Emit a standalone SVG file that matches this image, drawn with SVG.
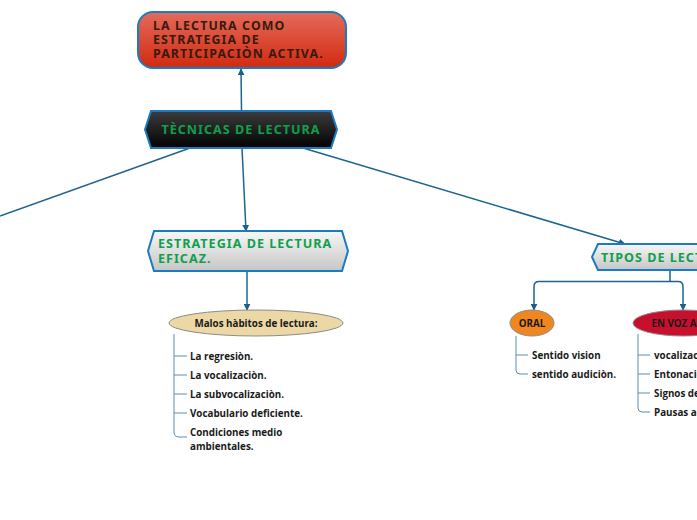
<svg xmlns="http://www.w3.org/2000/svg" width="697" height="520" viewBox="0 0 697 520">
<defs>
<linearGradient id="gRed" x1="0" y1="0" x2="0" y2="1"><stop offset="0" stop-color="#e36b5b"/><stop offset="1" stop-color="#d22a10"/></linearGradient>
<linearGradient id="gBlack" x1="0" y1="0" x2="0" y2="1"><stop offset="0" stop-color="#3c3c3c"/><stop offset="1" stop-color="#020202"/></linearGradient>
<linearGradient id="gGrey" x1="0" y1="0" x2="0" y2="1"><stop offset="0" stop-color="#f7f7f7"/><stop offset="1" stop-color="#c6c6c6"/></linearGradient>
<marker id="arr" viewBox="0 0 10 10" refX="9" refY="5" markerWidth="7" markerHeight="7" markerUnits="userSpaceOnUse" orient="auto"><path d="M0,0 L10,5 L0,10 Z" fill="#1d5f86"/></marker>
<style>
.con{fill:none;stroke:#1d6490;stroke-width:1.5}
.lst{fill:none;stroke:#5a8fb0;stroke-width:1}
.hx{stroke:#1a7cc0;stroke-width:2}
.h{font-family:"Noto Sans","Open Sans",sans-serif;font-weight:700;font-size:12.6px;letter-spacing:1px;fill:#10a04c}
.t{font-family:"Open Sans","Noto Sans",sans-serif;font-weight:700;font-size:9.8px;fill:#1a1a1a}
.e{stroke:#8c8c8c;stroke-width:1}
</style>
</defs>
<g id="connectors">
<line class="con" x1="241.5" y1="111" x2="241" y2="69" marker-end="url(#arr)"/>
<line class="con" x1="190" y1="148" x2="0" y2="216"/>
<line class="con" x1="242" y1="148" x2="246" y2="231" marker-end="url(#arr)"/>
<line class="con" x1="303" y1="148" x2="625" y2="244" marker-end="url(#arr)"/>
<line class="con" x1="247" y1="271" x2="247" y2="310" marker-end="url(#arr)"/>
<path class="con" d="M670,270 V281.5 M670,281.5 H539 Q534,281.5 534,286.5 V310" marker-end="url(#arr)"/>
<path class="con" d="M670,281.5 H678 Q683,281.5 683,286.5 V310" marker-end="url(#arr)"/>
<path class="lst" d="M174,334 V432 Q174,437 179,437 H187 M174,356 H187 M174,375 H187 M174,394 H187 M174,413 H187"/>
<path class="lst" d="M516,336 V370 Q516,374 520,374 H528 M516,355 H528"/>
<path class="lst" d="M638,334 V408 Q638,412 642,412 H650 M638,355 H650 M638,374 H650 M638,393 H650"/>
</g>
<g id="n-top">
<rect x="138" y="12" width="208" height="56" rx="15" fill="url(#gRed)" stroke="#1a7cc0" stroke-width="2"/>
<text font-family="'Noto Sans','Open Sans',sans-serif" font-weight="700" font-size="12.4" letter-spacing="1.1" fill="#3a1a0e"><tspan x="153" y="30">LA LECTURA COMO</tspan><tspan x="153" y="44">ESTRATEGIA DE</tspan><tspan x="153" y="58">PARTICIPACIÒN ACTIVA.</tspan></text>
</g>
<g id="n-tecnicas">
<path class="hx" d="M151,111 H331 L337,129.5 L331,148 H151 L145,129.5 Z" fill="url(#gBlack)"/>
<text class="h" x="241" y="134" text-anchor="middle">TÈCNICAS DE LECTURA</text>
</g>
<g id="n-estrategia">
<path class="hx" d="M154,231 H342 L348,251 L342,271 H154 L148,251 Z" fill="url(#gGrey)"/>
<text class="h"><tspan x="158" y="248">ESTRATEGIA DE LECTURA</tspan><tspan x="158" y="263">EFICAZ.</tspan></text>
</g>
<g id="n-tipos">
<path class="hx" d="M598,244 H705 V270 H598 L592,257 Z" fill="url(#gGrey)"/>
<text class="h" x="601" y="262">TIPOS DE LECTURA</text>
</g>
<g id="n-malos">
<ellipse class="e" cx="256" cy="323" rx="87" ry="13" fill="#ecd8a4"/>
<text class="t" x="256" y="327" text-anchor="middle">Malos hàbitos de lectura:</text>
</g>
<g id="n-malos-list">
<text class="t" x="190" y="360">La regresiòn.</text>
<text class="t" x="190" y="379">La vocalizaciòn.</text>
<text class="t" x="190" y="398">La subvocalizaciòn.</text>
<text class="t" x="190" y="417">Vocabulario deficiente.</text>
<text class="t"><tspan x="190" y="436">Condiciones medio</tspan><tspan x="190" y="450">ambientales.</tspan></text>
</g>
<g id="n-oral">
<ellipse class="e" cx="532" cy="323" rx="22" ry="13" fill="#f0861e"/>
<text class="t" x="532" y="327" text-anchor="middle">ORAL</text>
</g>
<g id="n-oral-list">
<text class="t" x="532" y="359">Sentido vision</text>
<text class="t" x="532" y="378">sentido audiciòn.</text>
</g>
<g id="n-envoz">
<ellipse class="e" cx="683" cy="323" rx="50" ry="13" fill="#c8102e"/>
<text class="t" x="683" y="327" text-anchor="middle">EN VOZ ALTA</text>
</g>
<g id="n-envoz-list">
<text class="t" x="654" y="359">vocalizaciòn.</text>
<text class="t" x="654" y="378">Entonaciòn.</text>
<text class="t" x="654" y="397">Signos de puntuaciòn.</text>
<text class="t" x="654" y="416">Pausas adecuadas.</text>
</g>
</svg>
